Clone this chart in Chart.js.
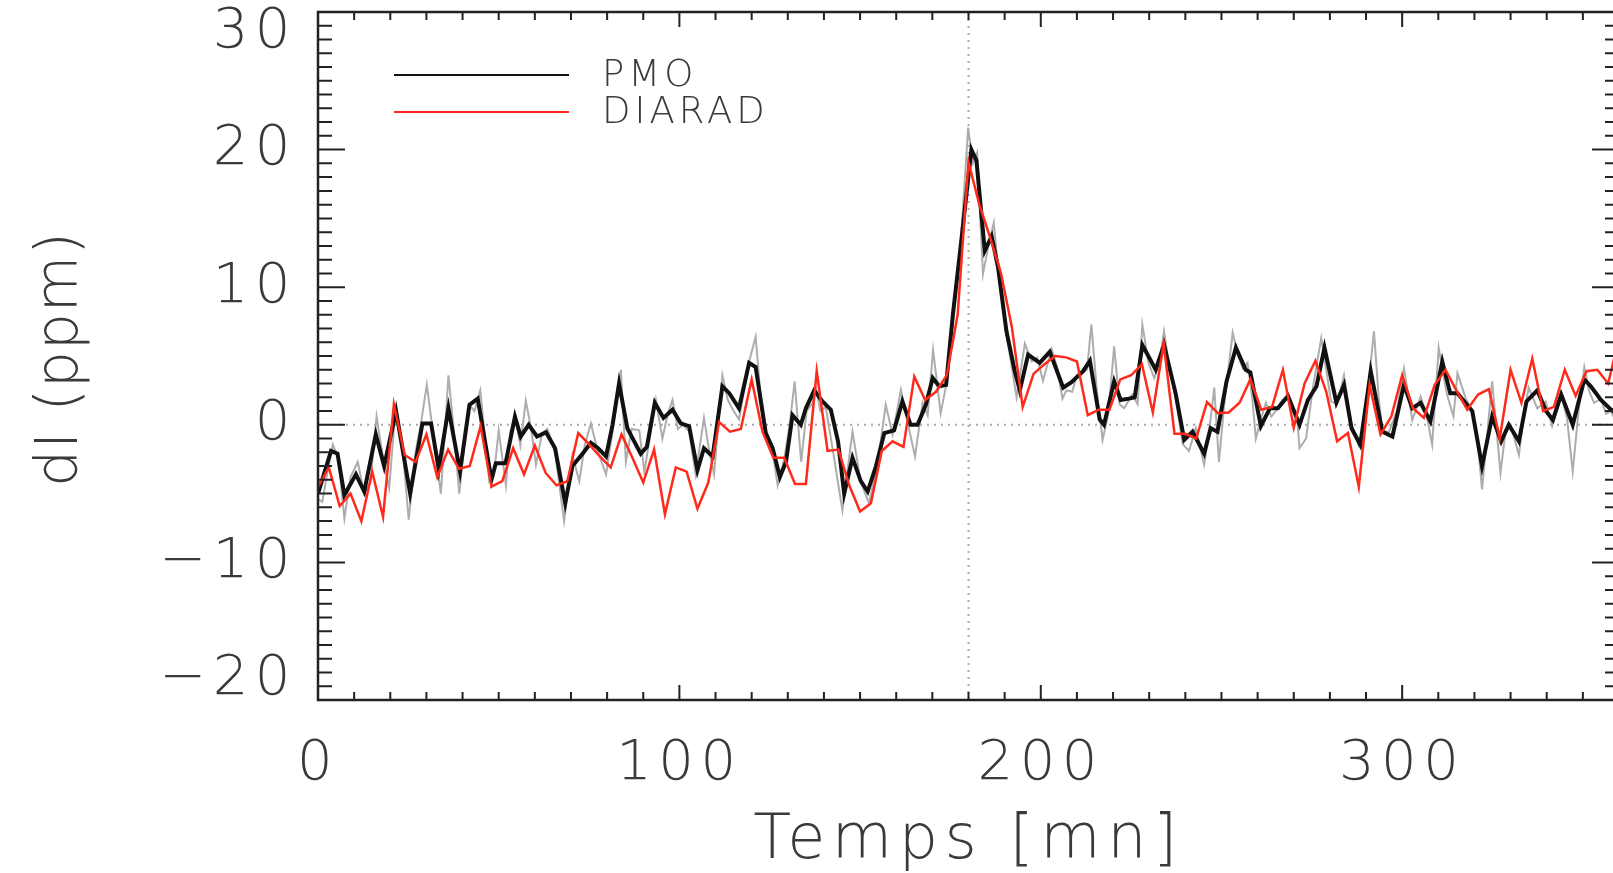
<!DOCTYPE html>
<html>
<head>
<meta charset="utf-8">
<script src="https://cdn.jsdelivr.net/npm/chart.js@4.4.0/dist/chart.umd.min.js"></script>
<style>
  html, body { margin: 0; padding: 0; background: #fff; overflow: hidden; }
  canvas { display: block; }
</style>
</head>
<body>
<canvas id="chart" width="1625" height="873"></canvas>
<script>
// axes
const xMin = 0, xMax = 360, xStep = 100;
const yMin = -20, yMax = 30, yStep = 10;
const flareTime = 180;
const xTitle = 'Temps [mn]';
const yTitle = 'dI (ppm)';

// DIARAD (red), 3 min cadence
const diaradTime = [0,3,6,9,12,15,18,21,24,27,30,33,36,39,42,45,48,51,54,57,60,63,66,69,72,75,78,81,84,87,90,93,96,99,102,105,108,111,114,117,120,123,126,129,132,135,138,141,144,147,150,153,156,159,162,165,168,171,174,177,180,183,186,189,192,195,198,201,204,207,210,213,216,219,222,225,228,231,234,237,240,243,246,249,252,255,258,261,264,267,270,273,276,279,282,285,288,291,294,297,300,303,306,309,312,315,318,321,324,327,330,333,336,339,342,345,348,351,354,357,360];
const diaradValue = [-4.5,-3.1,-5.9,-5.0,-7.0,-3.4,-6.7,1.5,-2.2,-2.7,-0.7,-3.8,-1.8,-3.2,-3.0,-0.1,-4.5,-4.1,-1.7,-3.6,-1.5,-3.5,-4.4,-4.1,-0.6,-1.4,-2.3,-3.1,-0.7,-2.4,-4.2,-1.8,-6.5,-3.1,-3.4,-6.1,-4.2,0.2,-0.5,-0.3,3.3,-0.5,-2.4,-2.4,-4.3,-4.3,3.9,-1.9,-1.8,-4.4,-6.3,-5.7,-1.9,-1.2,-1.6,3.5,1.8,2.4,3.6,8.0,19.1,16.0,13.6,11.0,7.1,1.3,3.7,4.4,5.0,4.9,4.6,0.7,1.1,1.1,3.3,3.6,4.4,0.9,5.9,-0.65,-0.65,-1.0,1.65,0.85,0.9,1.6,3.3,1.1,1.3,4.0,-0.2,3.0,4.65,2.4,-1.2,-0.6,-4.5,2.9,-0.7,0.6,3.6,1.2,0.5,2.9,4.0,2.5,1.1,2.2,2.6,-1.0,4.0,1.6,4.8,1.0,1.3,4.0,2.1,3.9,4.0,3.0,6.3];

// PMO smoothed (black)
const pmoTime = [0,3.6,5.4,7.3,10.5,12.8,16.0,18.3,21.6,25.5,28.9,31.3,33.4,36.1,39.3,41.9,44.2,48.0,49.2,51.9,54.5,56.1,58.3,60.6,63.1,65.6,68.4,70.4,73.2,75.5,77.5,79.7,81.5,83.3,85.6,87.5,89.3,91.0,93.2,95.6,98.1,100.4,102.7,105.0,106.8,109.2,111.9,113.8,116.5,119.3,121.1,123.9,125.8,127.8,129.5,131.3,133.6,135.0,137.3,139.6,141.9,143.9,145.6,147.9,150.2,152.1,154.4,156.7,159.4,161.7,164.0,165.9,168.2,170.1,171.9,173.8,175.7,178.1,180.8,182.2,184.5,186.4,188.2,190.5,192.8,194.2,196.5,199.7,202.5,206.2,208.5,211.7,213.6,216.3,217.5,220.3,222.1,224.4,226.0,228.1,231.8,234.1,237.3,239.7,242.0,245.2,247.0,248.9,251.4,254.0,256.7,258.0,260.9,263.4,265.6,268.4,271.6,273.9,276.3,278.5,281.8,283.9,286.0,288.4,291.3,294.5,297.3,300.5,302.8,305.1,307.8,311.1,313.3,315.3,319.4,322.1,324.9,327.4,329.5,332.3,334.4,337.4,339.8,341.7,344.0,347.2,350.4,352.2,355.0,357.8,360];
const pmoValue = [-5.0,-1.9,-2.1,-5.1,-3.6,-4.85,-0.7,-3.0,1.0,-5.0,0.1,0.1,-3.2,1.2,-3.4,1.45,1.9,-4.0,-2.8,-2.8,0.6,-0.85,0,-0.85,-0.55,-1.7,-5.7,-3.0,-2.1,-1.3,-1.7,-2.3,0,3.0,-0.25,-1.2,-2.1,-1.6,1.6,0.5,1.1,0.1,-0.1,-3.3,-1.7,-2.3,2.8,2.3,1.2,4.5,4.2,-0.6,-1.7,-3.8,-2.7,0.7,0,1.2,2.5,1.7,1.1,-1.2,-5.0,-2.4,-4.1,-4.85,-3.0,-0.6,-0.4,1.7,0,0,1.45,3.4,2.8,2.9,8.05,13.6,20.0,19.2,12.65,13.7,11.4,6.8,3.9,2.5,5.1,4.5,5.3,2.7,3.1,3.9,4.65,0.4,0,3.15,1.8,1.9,2.0,5.8,4.0,5.8,2.3,-1.1,-0.5,-2.1,-0.25,-0.5,3.15,5.6,4.0,3.8,-0.1,1.2,1.2,2.1,0,1.8,2.8,5.6,1.6,2.9,-0.25,-1.45,3.9,-0.5,-0.85,2.9,1.2,1.6,0.25,4.6,2.3,2.3,1.0,-3.0,0.6,-1.2,0,-1.2,1.7,2.5,1.0,0.35,2.2,0,3.3,2.8,1.8,1.1,0.7];

// PMO raw (grey)
const rawTime = [0,1.2,2.5,4.1,5.6,7.3,9,11,12.8,14.5,16.2,18,19.7,21.4,23.3,25.1,27,28.6,30.1,31.8,34.0,36.1,37.6,39.1,40.6,41.9,43.3,44.9,47.4,48.7,50,52,53.2,54.5,56,57.5,59,60.3,62,63.5,65.6,68.1,70.4,72.3,73.8,75.5,77.5,79.7,81.5,83.8,85.2,86.8,88.9,90.3,91.8,93.5,95.3,96.8,98.1,99.6,101,102.7,104.5,106.8,108.2,109.6,111.9,113.4,115,116.5,118,119.5,121.1,122.5,123.9,125.5,127.2,129,130.5,131.9,133.7,135.2,136.9,137.7,139,140.5,142.8,145.1,147.9,150.2,152.5,154.8,157.1,159,161.3,163.1,165.2,167.3,168.7,170.2,172.3,173.7,175.7,178,179.9,181.2,182.4,184,185.5,187,188.5,190.5,191.8,193.3,195.6,197.5,199,200.6,203,204.5,206,207.1,208.7,210,211.5,212.8,214,215.5,217.1,218.7,220.3,221.8,223.1,225.3,226.8,228.1,229.8,231.4,232.8,234.1,235.7,237.3,239.3,241,242.9,245.2,246.6,248,249.3,250.8,253.1,254.6,255.9,257.2,258.5,259.5,261,262.3,263.8,265,266.8,268.4,269.8,271,271.6,273.4,275.3,277.6,279,280.3,282,283.9,286,287.9,289.7,292.2,293.5,294.5,296.4,298.5,300.5,302.8,305.1,306.7,308.3,310.1,312.4,314.2,315.3,317.6,319.4,320.8,322.1,323.6,324.9,327.2,328.6,330,332.3,333.6,335,337.4,339.7,341.5,342.8,344,345.6,347.2,348.8,350.4,351.8,353.1,355,356.4,357.8,359,360];
const rawValue = [-5.4,-5.6,-3.6,-1.45,-2.4,-6.8,-3.8,-2.7,-5.0,-4.2,0.6,-2.4,-4.6,1.0,-1.4,-6.9,-2.0,0.3,2.9,-0.5,-5.0,3.6,-0.5,-5.0,-1.0,1.45,1.0,2.5,-4.1,-3.6,-0.4,-4.4,-0.5,0.6,-1.5,1.75,-0.3,-2.9,-0.6,-0.3,-2.0,-7.0,-2.2,-4.1,-1.5,0.1,-2.0,-3.6,-0.5,4.0,-2.7,-0.3,-0.4,-3.4,-1.0,1.8,-1.0,0.8,1.8,-0.3,0.0,-0.5,-3.6,0.5,-1.8,-3.6,3.6,1.8,1.0,0.4,2.6,4.8,6.4,2.0,-0.7,-1.4,-4.4,-2.5,0.0,3.15,-2.7,1.0,1.6,2.8,1.0,1.3,-2.4,-6.2,-0.5,-4.2,-5.7,-2.9,1.45,-0.7,2.55,0.25,-2.3,1.6,0.7,5.45,0.85,2.7,8.0,13.8,21.6,19.0,19.8,10.96,13.0,14.7,10.5,6.5,4.5,2.0,5.9,4.6,4.9,3.2,5.5,4.2,1.9,2.5,2.4,3.6,3.75,4.0,7.3,2.5,-1.1,0.8,5.7,1.5,1.2,2.2,1.5,7.3,4.5,3.4,4.5,6.8,4.0,1.9,-1.4,-1.9,-0.25,-2.9,-0.5,2.7,-2.7,1.6,6.7,5.0,4.1,4.5,2.0,-1.0,0.5,1.6,0.6,1.0,1.8,1.9,1.2,0.25,-1.7,-1.0,2.7,6.3,4.0,1.7,1.5,3.6,0,-1.45,0.5,6.8,2.0,-0.5,-0.5,1.0,4.1,0.35,2.05,0.8,-1.45,5.6,2.2,0.6,3.75,1.9,1.0,-1.0,-4.7,-0.5,3.15,-3.5,-0.5,0,-2.2,0.5,2.7,1.2,1.7,-0.1,1.0,2.2,0.5,-3.4,1.0,4.2,2.4,1.6,1.9,0.8,1.0,0.3,0.5];

const FONT = "'DejaVu Sans', sans-serif";
const TEXT = '#3a3a3a';
const RED = '#ff2a1a';

const toPoints = (ts, vs) => ts.map((t, i) => ({ x: t, y: vs[i] }));

// box, inward ticks, dotted zero/flare lines, y title, legend
const frame = {
  id: 'frame',
  beforeDraw(chart) {
    chart.ctx.letterSpacing = '6.5px';
  },
  beforeDatasetsDraw(chart) {
    const { ctx, chartArea: a, scales: { x, y } } = chart;
    ctx.save();
    ctx.strokeStyle = '#a8a8a8';
    ctx.lineWidth = 2;
    ctx.setLineDash([2, 5]);
    ctx.beginPath();
    const y0 = y.getPixelForValue(0);
    ctx.moveTo(a.left, y0);
    ctx.lineTo(a.right, y0);
    const xf = x.getPixelForValue(flareTime);
    ctx.moveTo(xf, a.top);
    ctx.lineTo(xf, a.bottom);
    ctx.stroke();
    ctx.restore();
  },
  afterDraw(chart) {
    const { ctx, chartArea: a, scales: { x, y } } = chart;
    ctx.save();
    ctx.strokeStyle = '#222';
    ctx.lineWidth = 2;
    ctx.beginPath();
    for (let v = xMin; v <= xMax; v += 10) {
      const px = x.getPixelForValue(v);
      const len = v % 100 === 0 ? 15 : 8;
      ctx.moveTo(px, a.bottom); ctx.lineTo(px, a.bottom - len);
      ctx.moveTo(px, a.top); ctx.lineTo(px, a.top + len);
    }
    for (let v = yMin; v <= yMax; v += 1) {
      const py = y.getPixelForValue(v);
      const len = v % 10 === 0 ? 27 : 14;
      ctx.moveTo(a.left, py); ctx.lineTo(a.left + len, py);
      ctx.moveTo(a.right, py); ctx.lineTo(a.right - len, py);
    }
    ctx.stroke();
    ctx.lineWidth = 2.5;
    ctx.strokeRect(a.left, a.top, a.right - a.left, a.bottom - a.top);

    // y title (tighter tracking than the tick labels)
    ctx.save();
    ctx.letterSpacing = '1px';
    ctx.font = '200 58px ' + FONT;
    ctx.fillStyle = TEXT;
    ctx.textAlign = 'center';
    ctx.textBaseline = 'middle';
    ctx.translate(62, (a.top + a.bottom) / 2 + 3);
    ctx.rotate(-Math.PI / 2);
    ctx.fillText(yTitle, 0, 0);
    ctx.restore();

    // legend
    ctx.letterSpacing = '4px';
    ctx.font = '200 37px ' + FONT;
    ctx.textBaseline = 'middle';
    ctx.textAlign = 'left';
    const items = chart.data.datasets.filter(d => d.label);
    items.forEach((d, i) => {
      const ly = a.top + 63 + i * 37;
      ctx.strokeStyle = d.borderColor;
      ctx.lineWidth = 2;
      ctx.beginPath();
      ctx.moveTo(a.left + 76, ly);
      ctx.lineTo(a.left + 251, ly);
      ctx.stroke();
      ctx.fillStyle = TEXT;
      ctx.fillText(d.label, a.left + 284, ly + 1);
    });
    ctx.restore();
  }
};

new Chart(document.getElementById('chart'), {
  type: 'line',
  data: {
    datasets: [
      {
        data: toPoints(rawTime, rawValue),
        borderColor: '#adadad',
        borderWidth: 2,
        pointRadius: 0,
        order: 3
      },
      {
        label: 'PMO',
        data: toPoints(pmoTime, pmoValue),
        borderColor: '#111',
        borderWidth: 4,
        pointRadius: 0,
        order: 2
      },
      {
        label: 'DIARAD',
        data: toPoints(diaradTime, diaradValue),
        borderColor: RED,
        borderWidth: 2.5,
        pointRadius: 0,
        order: 1
      }
    ]
  },
  options: {
    responsive: false,
    animation: false,
    layout: { padding: { left: 0, right: 6, top: 12, bottom: 0 } },
    plugins: { legend: { display: false }, tooltip: { enabled: false } },
    scales: {
      x: {
        type: 'linear',
        min: xMin,
        max: xMax,
        grid: { display: false, drawTicks: false },
        border: { display: false },
        ticks: {
          stepSize: xStep,
          padding: 31,
          color: TEXT,
          font: { family: FONT, size: 56, weight: 200 }
        },
        afterBuildTicks(scale) {
          scale.ticks = scale.ticks.filter(t => t.value % xStep === 0);
        },
        afterFit(scale) {
          scale.height = 173;
          scale.paddingLeft = 0;
          scale.paddingRight = 0;
        },
        title: {
          display: true,
          text: xTitle,
          color: TEXT,
          font: { family: FONT, size: 62, weight: 200, lineHeight: 1.0 },
          padding: { top: 0, bottom: 0 }
        }
      },
      y: {
        min: yMin,
        max: yMax,
        grid: { display: false, drawTicks: false },
        border: { display: false },
        ticks: {
          stepSize: yStep,
          padding: 21,
          color: TEXT,
          font: { family: FONT, size: 56, weight: 200, lineHeight: 0.72 },
          // end labels sit inside the axis range, as in the original
          callback: v => {
            const s = v < 0 ? '\u2212' + (-v) : String(v);
            if (v === yMax) return ['', s];
            if (v === yMin) return [s, ''];
            return s;
          }
        },
        afterFit(scale) {
          scale.width = 318;
          scale.paddingTop = 0;
          scale.paddingBottom = 0;
        }
      }
    }
  },
  plugins: [frame]
});
</script>
</body>
</html>
